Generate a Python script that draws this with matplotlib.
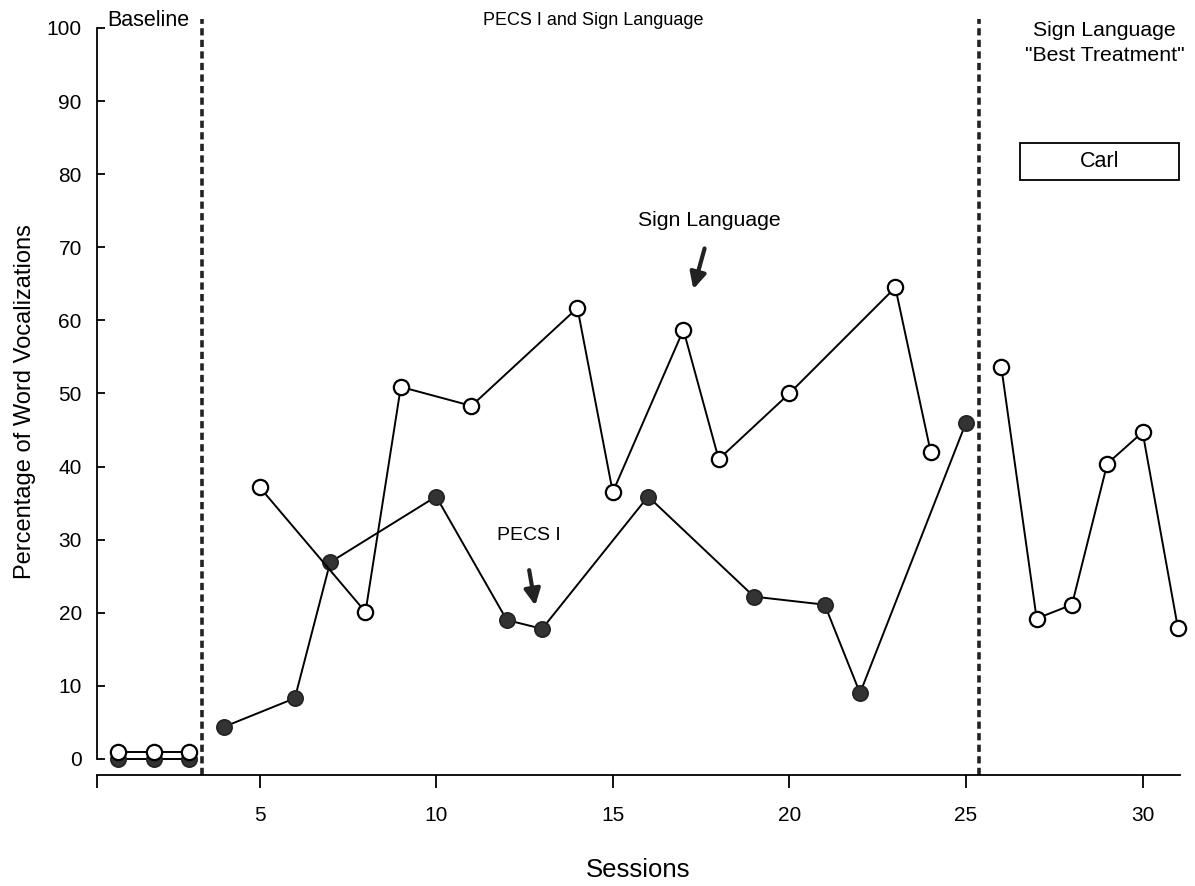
import numpy as np
import matplotlib.pyplot as plt
from matplotlib.patches import Rectangle

plt.rcParams['font.family'] = ['Liberation Sans', 'DejaVu Sans']

# Baseline (sesje 1-3)
base_sessions = [1, 2, 3]
base_sign = [1, 1, 1]
base_pecs = [0, 0, 0]

# PECS I and Sign Language
pecs_sessions = [4, 6, 7, 10, 12, 13, 16, 19, 21, 22, 25]
pecs_values = [4.4, 8.3, 26.9, 35.9, 19.0, 17.8, 35.9, 22.2, 21.1, 9.0, 46.0]

sign_sessions = [5, 8, 9, 11, 14, 15, 17, 18, 20, 23, 24]
sign_values = [37.2, 20.1, 50.9, 48.3, 61.7, 36.5, 58.7, 41.0, 50.0, 64.5, 42.0]

# Sign Language "Best Treatment"
best_sessions = [26, 27, 28, 29, 30, 31]
best_values = [53.6, 19.2, 21.1, 40.4, 44.7, 17.9]

phase_lines = [3.36, 25.36]
x_ticks = [5, 10, 15, 20, 25, 30]
y_ticks = [0, 10, 20, 30, 40, 50, 60, 70, 80, 90, 100]

fig = plt.figure(figsize=(11.95, 8.86), dpi=100)
ax = fig.add_axes([0.0812, 0.1253, 0.906, 0.8431])

filled = dict(color='black', lw=1.4, marker='o', markersize=11, clip_on=False,
              markerfacecolor='#333333', markeredgecolor='#222222', markeredgewidth=1.2)
hollow = dict(color='black', lw=1.4, marker='o', markersize=11, clip_on=False,
              markerfacecolor='white', markeredgecolor='black', markeredgewidth=1.6)

ax.plot(base_sessions, base_pecs, zorder=3, **filled)
ax.plot(base_sessions, base_sign, zorder=4, **hollow)
ax.plot(pecs_sessions, pecs_values, zorder=3, **filled)
ax.plot(sign_sessions, sign_values, zorder=4, **hollow)
ax.plot(best_sessions, best_values, zorder=4, **hollow)

# linie zmiany fazy
for xl in phase_lines:
    ax.axvline(xl, ymin=0, ymax=1.012, color='#222222', lw=2.6,
               linestyle=(0, (2.0, 1.2)), clip_on=False, zorder=2)

ax.set_xlim(0.4, 31.05)
ax.set_ylim(-2.2, 100)

ax.spines['top'].set_visible(False)
ax.spines['right'].set_visible(False)
ax.spines['left'].set_bounds(0, 100)
ax.spines['left'].set_linewidth(1.3)
ax.spines['bottom'].set_linewidth(1.3)

ax.set_xticks([0.4] + x_ticks)
ax.set_xticklabels([''] + [str(v) for v in x_ticks], fontsize=15)
ax.set_yticks(y_ticks)
ax.set_yticklabels([str(v) for v in y_ticks], fontsize=15)
ax.tick_params(axis='x', direction='out', length=9, width=1.3, pad=13)
ax.tick_params(axis='y', direction='in', length=6, width=1.3, pad=11)

ax.set_xlabel('Sessions', fontsize=18.5, labelpad=24)
ax.set_ylabel('Percentage of Word Vocalizations', fontsize=17, labelpad=8)

# opisy faz
ax.text(0.7, 101.0, 'Baseline', fontsize=15.5, ha='left', va='center', clip_on=False)
ax.text(14.46, 101.0, 'PECS I and Sign Language', fontsize=13, ha='center', va='center', clip_on=False)
ax.text(28.92, 99.6, 'Sign Language', fontsize=15.3, ha='center', va='center', clip_on=False)
ax.text(28.92, 96.2, '"Best Treatment"', fontsize=15.3, ha='center', va='center', clip_on=False)

ax.add_patch(Rectangle((26.52, 79.2), 4.5, 5.1, fill=False, edgecolor='black', lw=1.3))
ax.text(28.78, 81.75, 'Carl', fontsize=15.5, ha='center', va='center')

# strzałki
ax.text(17.74, 73.6, 'Sign Language', fontsize=15.3, ha='center', va='center')
ax.annotate('', xy=(17.26, 63.9), xytext=(17.62, 70.2),
            arrowprops=dict(arrowstyle='-|>', lw=3, color='#222222', mutation_scale=24))
ax.text(12.62, 30.5, 'PECS I', fontsize=14, ha='center', va='center')
ax.annotate('', xy=(12.82, 20.6), xytext=(12.62, 26.2),
            arrowprops=dict(arrowstyle='-|>', lw=3, color='#222222', mutation_scale=24))

plt.savefig('out.png', dpi=100)
